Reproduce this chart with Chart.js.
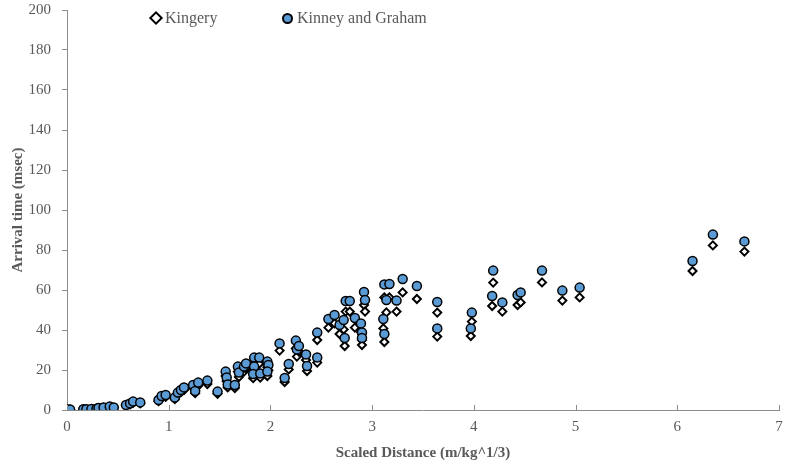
<!DOCTYPE html>
<html>
<head>
<meta charset="utf-8">
<script src="https://cdn.jsdelivr.net/npm/chart.js@4"></script>
<style>
  html, body { margin: 0; padding: 0; background: #fff; overflow: hidden; }
  #wrap { position: relative; width: 785px; height: 467px; }
  #chart { position: absolute; left: 0; top: 0; }
  .leg { position: absolute; top: 8px; font: 16px "Liberation Serif", "Times New Roman", serif; color: #595959; line-height: 20px; white-space: nowrap; }
  .leg i { display: inline-block; vertical-align: middle; margin-right: 4px; position: relative; top: -1px; }
  .dia { width: 6px; height: 6px; border: 2px solid #000; background: #fff; transform: rotate(45deg); }
  .dot { width: 7px; height: 7px; border: 2px solid #000; background: #5B9BD5; border-radius: 50%; }
</style>
</head>
<body>
<div id="wrap">
  <canvas id="chart" width="785" height="467"></canvas>
  <div class="leg" style="left:151px"><i class="dia"></i>Kingery</div>
  <div class="leg" style="left:282px"><i class="dot"></i>Kinney and Graham</div>
</div>
<script>
// scaled distance (m/kg^1/3)
const distance = [
  0.00, 0.03, 0.16, 0.19, 0.24, 0.29, 0.31, 0.36, 0.42, 0.46,
  0.58, 0.62, 0.65, 0.72, 0.90, 0.93, 0.97, 1.06, 1.09, 1.12,
  1.15, 1.24, 1.26, 1.29, 1.38, 1.48, 1.56, 1.57, 1.58, 1.65,
  1.68, 1.69, 1.74, 1.76, 1.84, 1.89, 1.84, 1.83, 1.90, 1.97,
  1.98, 1.97, 2.09, 2.14, 2.18, 2.25, 2.26, 2.28, 2.35, 2.36,
  2.46, 2.46, 2.57, 2.63, 2.68, 2.72, 2.73, 2.74, 2.78, 2.83,
  2.89, 2.90, 2.90, 2.92, 2.93, 3.11, 3.12, 3.12, 3.17, 3.14,
  3.24, 3.30, 3.44, 3.64, 3.64, 3.98, 3.97, 4.19, 4.18, 4.28,
  4.43, 4.46, 4.67, 4.87, 5.04, 6.15, 6.35, 6.66
];
// arrival time (msec)
const kinneyGraham = [
  0.3, 0.3, 0.4, 0.4, 0.5, 0.6, 1.0, 1.3, 1.7, 1.3,
  2.5, 3.3, 4.2, 3.8, 5.0, 7.0, 7.5, 6.2, 8.7, 10.0,
  11.3, 12.5, 9.5, 13.7, 14.7, 9.2, 19.2, 16.3, 12.8, 12.5,
  21.7, 18.7, 21.7, 23.3, 26.2, 26.2, 21.7, 18.0, 18.3, 24.2,
  22.5, 19.2, 33.3, 16.0, 23.0, 34.7, 30.3, 32.0, 27.8, 22.0,
  38.7, 26.3, 45.5, 47.5, 42.5, 45.0, 36.0, 54.5, 54.5, 46.0,
  43.3, 38.8, 36.0, 59.0, 55.0, 45.5, 38.0, 62.8, 63.0, 55.0,
  54.7, 65.5, 62.0, 54.0, 40.8, 48.7, 40.8, 69.7, 57.0, 53.8,
  57.5, 58.8, 69.7, 59.7, 61.2, 74.5, 87.7, 84.3
];
const kingery = [
  0.2, 0.2, 0.3, 0.3, 0.4, 0.5, 0.8, 1.1, 1.4, 1.1,
  2.1, 2.8, 3.6, 3.3, 4.4, 6.2, 6.6, 5.5, 7.7, 8.9,
  10.0, 11.0, 8.4, 12.1, 13.0, 8.1, 17.0, 14.4, 11.3, 11.0,
  19.2, 16.5, 19.2, 20.6, 23.1, 23.1, 19.2, 15.9, 16.2, 21.4,
  19.9, 17.0, 29.7, 14.0, 20.3, 30.8, 26.7, 29.2, 25.0, 19.5,
  35.0, 23.7, 41.2, 43.3, 38.0, 40.3, 32.0, 49.2, 49.2, 41.2,
  39.0, 35.0, 32.5, 52.5, 49.2, 40.8, 34.0, 56.3, 56.3, 48.8,
  49.2, 58.8, 55.5, 48.7, 36.7, 44.2, 37.0, 63.7, 52.0, 49.2,
  52.5, 53.8, 63.8, 54.7, 56.3, 69.5, 82.3, 79.2
];
const xTicks = [0, 1, 2, 3, 4, 5, 6, 7];

const serif = '"Liberation Serif", "Times New Roman", serif';
const grey = '#595959';
const axisGrey = '#8c8c8c';

// x ticks point up into the plot
const innerTicks = {
  id: 'innerTicks',
  afterDatasetsDraw(chart) {
    const sx = chart.scales.x;
    const ctx = chart.ctx;
    ctx.save();
    ctx.strokeStyle = axisGrey;
    ctx.lineWidth = 1;
    xTicks.forEach(v => {
      const px = Math.round(sx.getPixelForValue(v)) + 0.5;
      ctx.beginPath();
      ctx.moveTo(px, sx.top);
      ctx.lineTo(px, sx.top - 5);
      ctx.stroke();
    });
    ctx.restore();
  }
};

new Chart(document.getElementById('chart'), {
  type: 'scatter',
  data: {
    datasets: [
      {
        label: 'Kinney and Graham',
        data: distance.map((x, i) => ({ x, y: kinneyGraham[i] })),
        pointStyle: 'circle',
        pointRadius: 4.5,
        pointBorderWidth: 1.5,
        backgroundColor: '#5B9BD5',
        borderColor: '#000',
        order: 0
      },
      {
        label: 'Kingery',
        data: distance.map((x, i) => ({ x, y: kingery[i] })),
        pointStyle: 'rectRot',
        pointRadius: 4,
        pointBorderWidth: 2,
        backgroundColor: '#fff',
        borderColor: '#000',
        order: 1
      }
    ]
  },
  options: {
    responsive: false,
    animation: false,
    layout: { padding: { top: 10, right: 4, left: 0, bottom: 0 } },
    plugins: { legend: { display: false }, tooltip: { enabled: false } },
    scales: {
      x: {
        type: 'linear',
        min: 0, max: 7,
        afterBuildTicks: s => { s.ticks = xTicks.map(v => ({ value: v })); },
        afterFit: s => { s.height = 57; s.paddingLeft = 0; s.paddingRight = 0; },
        grid: { drawOnChartArea: false, drawTicks: false },
        border: { color: axisGrey, width: 1 },
        ticks: { color: grey, font: { family: serif, size: 15 }, padding: 8 },
        title: {
          display: true, text: 'Scaled Distance (m/kg^1/3)', color: grey,
          font: { family: serif, size: 15, weight: 'bold' }, padding: { top: 0, bottom: 5 }
        }
      },
      y: {
        min: 0, max: 200,
        ticks: { stepSize: 20, color: grey, font: { family: serif, size: 15 }, padding: 11 },
        afterFit: s => { s.width = 67; s.paddingTop = 0; s.paddingBottom = 0; },
        grid: { drawOnChartArea: false, tickLength: 5, color: axisGrey },
        border: { color: axisGrey, width: 1 },
        title: {
          display: true, text: 'Arrival time (msec)', color: grey,
          font: { family: serif, size: 15, weight: 'bold' }, padding: { top: 9, bottom: 0 }
        }
      }
    }
  },
  plugins: [innerTicks]
});
</script>
</body>
</html>
